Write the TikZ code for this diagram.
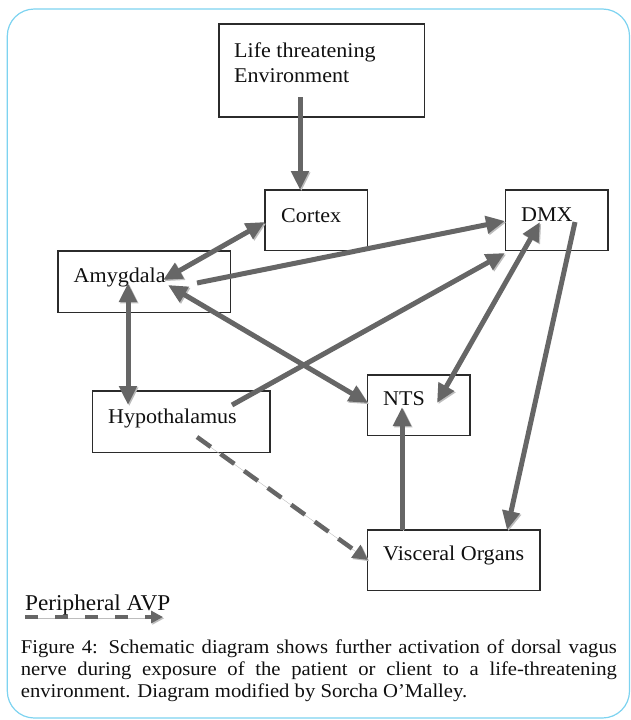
\documentclass[tikz,border=0pt]{standalone}
\usepackage{fontspec}
\setmainfont{Liberation Serif}
\newfontfamily\lblfont[FakeStretch=1.05]{Liberation Serif}
\newfontfamily\legfont[FakeStretch=1.03]{Liberation Serif}
\newfontfamily\capfont[FakeStretch=1.06]{Liberation Serif}
\usetikzlibrary{arrows.meta}
\definecolor{arr}{HTML}{666666}
\definecolor{arrsh}{HTML}{BDBDBD}
\definecolor{framec}{HTML}{7DD3F0}
\definecolor{boxc}{HTML}{2B2B2B}
\definecolor{txt}{HTML}{101010}
\begin{document}
\begin{tikzpicture}[x=1pt,y=-1pt,
  bx/.style={draw=boxc, line width=1.3pt, rectangle, inner sep=0pt},
  lbl/.style={anchor=base west, inner sep=0pt, text=txt, font=\lblfont\fontsize{21}{25}\selectfont},
  captxt/.style={anchor=base west, inner sep=0pt, text=txt, font=\capfont\fontsize{19.5}{22}\selectfont},
  legtxt/.style={anchor=base west, inner sep=0pt, text=txt, font=\legfont\fontsize{22.6}{26}\selectfont},
  shadowed/.style={preaction={draw=arrsh, transform canvas={shift={(1.3pt,-1.3pt)}}}},
  arw/.style={draw=arr, line width=5pt, shadowed},
  onehead/.style={arw, -{Triangle[length=19pt,width=17pt]}},
  twohead/.style={arw, {Triangle[length=19pt,width=17pt]}-{Triangle[length=19pt,width=17pt]}},
  dashedarw/.style={draw=arr, line width=4.5pt, shadowed, dash pattern=on 17pt off 12pt, -{Triangle[length=15pt,width=15pt]}},
  legarw/.style={draw=arr, line width=4.5pt, shadowed, dash pattern=on 13pt off 17pt, -{Triangle[length=12pt,width=12pt]}}
]
\useasboundingbox (0,0) rectangle (630,720);

% frame
\draw[draw=framec, line width=1.2pt, rounded corners=27pt] (7.3,9) rectangle (629.5,718);

% boxes
\node[bx, minimum width=205.5pt, minimum height=93pt]   (life)   at (321.75,70.5) {};
\node[bx, minimum width=102.5pt, minimum height=60.7pt] (cortex) at (316.25,220.35) {};
\node[bx, minimum width=102.3pt, minimum height=60.7pt] (dmx)    at (556.85,220.35) {};
\node[bx, minimum width=172.7pt, minimum height=61.7pt] (amyg)   at (144.35,281.85) {};
\node[bx, minimum width=177.3pt, minimum height=61.7pt] (hypo)   at (181.35,421.85) {};
\node[bx, minimum width=102.7pt, minimum height=60.7pt] (nts)    at (418.65,405.35) {};
\node[bx, minimum width=172.7pt, minimum height=60.7pt] (visc)   at (453.65,560.35) {};

% labels
\node[lbl] (lifeA) at (234,57) {Life threatening};
\node[lbl] (lifeB) at (234,82) {Environment};
\node[lbl] (cortexT) at (281,222) {Cortex};
\node[lbl] (dmxT) at (521,221) {DMX};
\node[lbl] (amygT) at (73.5,282) {Amygdala};
\node[lbl] (hypoT) at (108,423) {Hypothalamus};
\node[lbl] (ntsT) at (383,405) {NTS};
\node[lbl] (viscT) at (383,560) {Visceral Organs};

% connector end points
\coordinate (lifeS)   at (300,97);
\coordinate (cortexN) at (300,190);
\coordinate (amygC)   at (163,280);
\coordinate (cortexW) at (265,222);
\coordinate (amygD)   at (197,283);
\coordinate (dmxW)    at (505,221);
\coordinate (amygN)   at (168,285);
\coordinate (ntsW)    at (368,403);
\coordinate (hypoD)   at (232,405);
\coordinate (dmxSW)   at (505,253);
\coordinate (dmxN)    at (540,222);
\coordinate (ntsE)    at (437,403);
\coordinate (dmxV)    at (575,222);
\coordinate (viscN)   at (507,530);
\coordinate (viscS)   at (402,530);
\coordinate (ntsS)    at (402,407);
\coordinate (amygH)   at (128,283);
\coordinate (hypoA)   at (128,405);
\coordinate (hypoV)   at (197,437);
\coordinate (viscW)   at (368,560);

% connectors
\draw[onehead] (lifeS) -- (cortexN);
\draw[twohead] (amygC) -- (cortexW);
\draw[onehead] (amygD) -- (dmxW);
\draw[twohead] (amygN) -- (ntsW);
\draw[onehead] (hypoD) -- (dmxSW);
\draw[twohead] (dmxN) -- (ntsE);
\draw[onehead] (dmxV) -- (viscN);
\draw[onehead] (viscS) -- (ntsS);
\draw[twohead] (amygH) -- (hypoA);
\draw[dashedarw] (hypoV) -- (viscW);

% legend
\node[legtxt] (legT) at (25,610) {Peripheral AVP};
\coordinate (legA) at (25,617);
\coordinate (legB) at (163,617);
\draw[legarw] (legA) -- (legB);

% caption
\node[captxt] (cap1) at (20.7,653) {\makebox[596pt][s]{Figure 4: Schematic diagram shows further activation of dorsal vagus}};
\node[captxt] (cap2) at (20.7,675) {\makebox[596pt][s]{nerve during exposure of the patient or client to a life-threatening}};
\node[captxt] (cap3) at (20.7,697) {environment. Diagram modified by Sorcha O’Malley.};
\end{tikzpicture}
\end{document}
